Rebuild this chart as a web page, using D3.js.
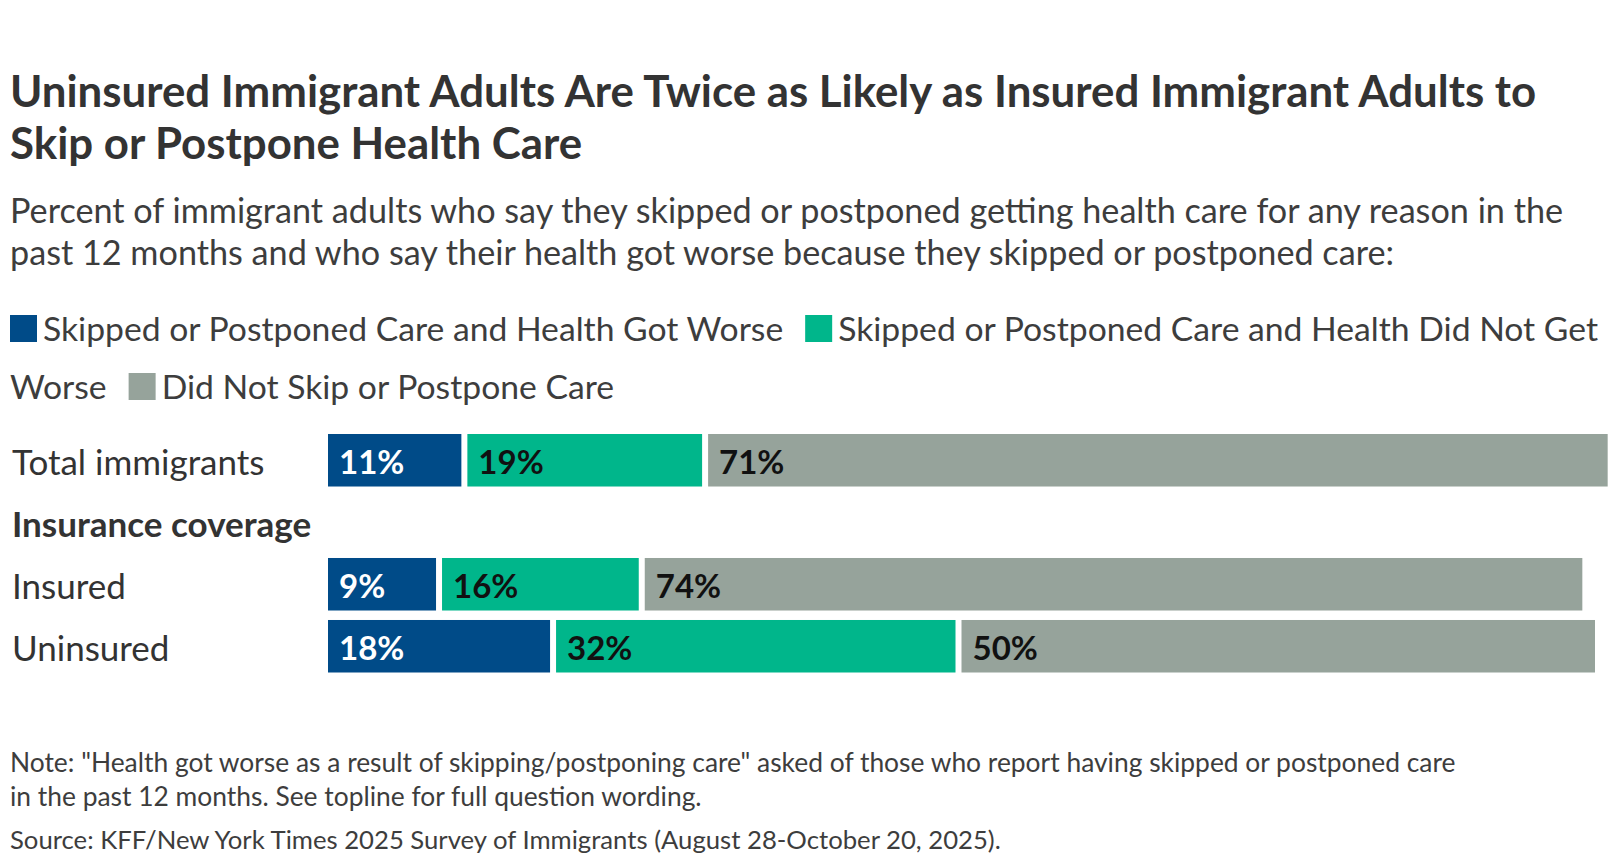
<!DOCTYPE html>
<html>
<head>
<meta charset="utf-8">
<script src="https://cdn.jsdelivr.net/npm/d3@7"></script>
<style>
  body { margin: 0; background: #fff; }
  svg text { font-family: "Lato", "Noto Sans", sans-serif; }
</style>
</head>
<body>
<div id="chart"></div>
<script>
const titleLines = [
    "Uninsured Immigrant Adults Are Twice as Likely as Insured Immigrant Adults to",
    "Skip or Postpone Health Care"
];
const subtitleLines = [
    "Percent of immigrant adults who say they skipped or postponed getting health care for any reason in the",
    "past 12 months and who say their health got worse because they skipped or postponed care:"
];
const noteLines = [
    "Note: \"Health got worse as a result of skipping/postponing care\" asked of those who report having skipped or postponed care",
    "in the past 12 months. See topline for full question wording."
];
const sourceLine = "Source: KFF/New York Times 2025 Survey of Immigrants (August 28-October 20, 2025).";

const seriesNames = [
    "Skipped or Postponed Care and Health Got Worse",
    "Skipped or Postponed Care and Health Did Not Get Worse",
    "Did Not Skip or Postpone Care"
];
const seriesColors = ["#004b88", "#00b68b", "#96a39b"];
const labelColors = ["#ffffff", "#111111", "#111111"];

const rowLabels = ["Total immigrants", "Insurance coverage", "Insured", "Uninsured"];
const rowIsHeader = [false, true, false, false];
const gotWorse = [11, null, 9, 18];
const didNotGetWorse = [19, null, 16, 32];
const didNotSkip = [71, null, 74, 50];

const width = 1620, height = 868;
const textColor = "#333";

const svg = d3.select("#chart").append("svg")
    .attr("width", width)
    .attr("height", height);

// title
svg.append("g").selectAll("text")
    .data(titleLines)
    .join("text")
    .attr("x", 10)
    .attr("y", (d, i) => 107 + i * 52)
    .attr("font-size", "43.8px")
    .attr("font-weight", "bold")
    .attr("fill", textColor)
    .text(d => d);

svg.append("g").selectAll("text")
    .data(subtitleLines)
    .join("text")
    .attr("x", 10)
    .attr("y", (d, i) => 223 + i * 42)
    .attr("font-size", "34.2px")
    .attr("fill", "#3d3d3d")
    .text(d => d);

// legend, flowing words like the original wrapping
const legendG = svg.append("g");
const legendFont = 33.7, sq = 27, maxX = 1610;
let lx = 10, ly = 341;
const lineStep = 58;
function measure(txt) {
    const t = legendG.append("text").attr("font-size", legendFont + "px").text(txt);
    const w = t.node().getComputedTextLength();
    t.remove();
    return w;
}
seriesNames.forEach(function(name, i) {
    const words = name.split(" ");
    if (lx + sq + 6 + measure(words[0]) > maxX) { lx = 10; ly += lineStep; }
    legendG.append("rect")
        .attr("x", lx)
        .attr("y", ly - 26)
        .attr("width", sq)
        .attr("height", sq)
        .attr("fill", seriesColors[i]);
    lx += sq + 6;
    let line = "";
    let startX = lx;
    words.forEach(function(w) {
        const trial = line ? line + " " + w : w;
        if (startX + measure(trial) > maxX && line) {
            legendG.append("text").attr("x", startX).attr("y", ly)
                .attr("font-size", legendFont + "px").attr("fill", "#3d3d3d").text(line);
            ly += lineStep;
            startX = 10;
            line = w;
        } else {
            line = trial;
        }
    });
    legendG.append("text").attr("x", startX).attr("y", ly)
        .attr("font-size", legendFont + "px").attr("fill", "#3d3d3d").text(line);
    lx = startX + measure(line) + 22;
});

// bars
const x = d3.scaleLinear().domain([0, 100]).range([328, 328 + 1267]);
const y = d3.scaleBand()
    .domain(d3.range(rowLabels.length))
    .range([434, 672.5])
    .paddingInner(0.153)
    .paddingOuter(0);
const gap = 6;

svg.append("g").selectAll("text")
    .data(rowLabels)
    .join("text")
    .attr("x", 12)
    .attr("y", (d, i) => y(i) + y.bandwidth() / 2 + 1.5)
    .attr("dy", "0.38em")
    .attr("font-size", "35px")
    .attr("font-weight", (d, i) => rowIsHeader[i] ? "bold" : "normal")
    .attr("fill", textColor)
    .text(d => d);

const rows = rowLabels.map((r, i) => [gotWorse[i], didNotGetWorse[i], didNotSkip[i]])
    .map((vals, i) => ({ i: i, vals: vals }))
    .filter(d => !rowIsHeader[d.i]);

rows.forEach(function(r) {
    let cum = 0;
    const g = svg.append("g");
    r.vals.forEach(function(v, k) {
        const x0 = x(cum);
        const last = k === r.vals.length - 1;
        const w = x(cum + v) - x0 - (last ? 0 : gap);
        g.append("rect")
            .attr("x", x0)
            .attr("y", y(r.i))
            .attr("width", w)
            .attr("height", y.bandwidth())
            .attr("fill", seriesColors[k]);
        g.append("text")
            .attr("x", x0 + 11)
            .attr("y", y(r.i) + y.bandwidth() / 2 + 1)
            .attr("dy", "0.38em")
            .attr("font-size", "33px")
            .attr("font-weight", "bold")
            .attr("fill", labelColors[k])
            .text(v + "%");
        cum += v;
    });
});

// notes
svg.append("g").selectAll("text")
    .data(noteLines)
    .join("text")
    .attr("x", 10)
    .attr("y", (d, i) => 772 + i * 34)
    .attr("font-size", "26.4px")
    .attr("fill", "#3d3d3d")
    .text(d => d);

svg.append("text")
    .attr("x", 10)
    .attr("y", 849)
    .attr("font-size", "25.7px")
    .attr("fill", "#3d3d3d")
    .text(sourceLine);
</script>
</body>
</html>
